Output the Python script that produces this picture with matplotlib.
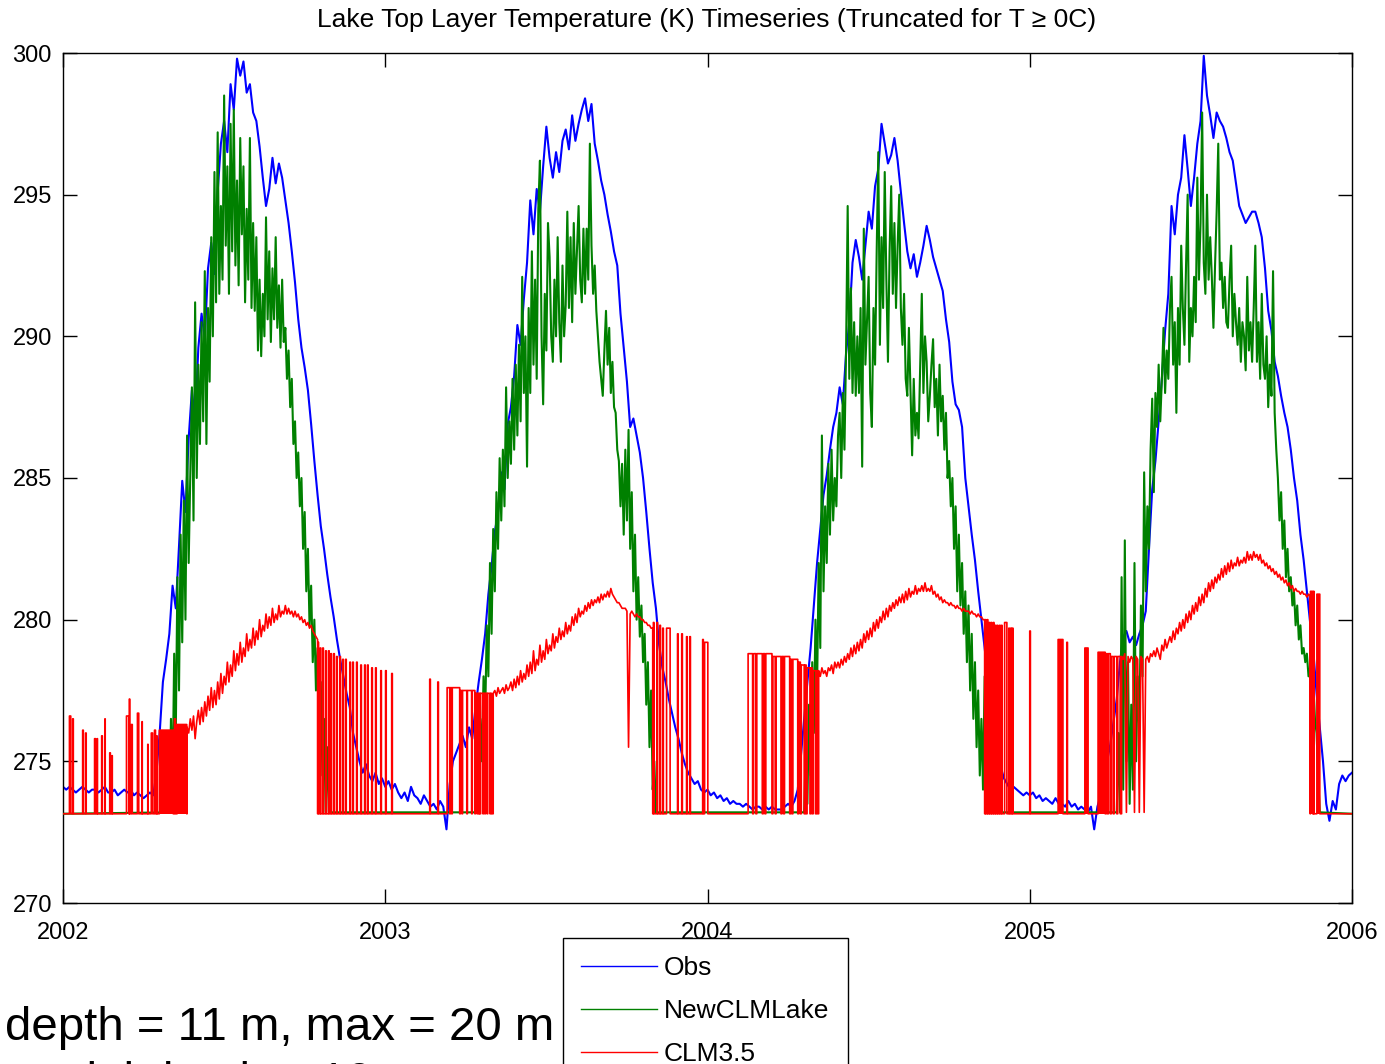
import numpy as np
import matplotlib
matplotlib.use('Agg')
import matplotlib.pyplot as plt

FLOOR = 273.15   # truncation level (0 C)

# ---- Obs: one value every 0.01 yr from 2002.00 to 2006.00
obs_t0 = 2002.0
obs_dt = 0.01
obs_T = [
    274.1, 274.0, 274.1, 274.0, 273.9, 274.0, 274.1, 274.0, 273.9, 274.0,
    274.0, 273.9, 274.0, 274.1, 273.9, 273.9, 274.0, 273.8, 273.9, 274.0,
    273.9, 274.0, 273.8, 273.9, 273.8, 273.7, 273.8, 273.9, 273.8, 274.6,
    276.0, 277.8, 278.6, 279.5, 281.2, 280.4, 282.6, 284.9, 283.8, 286.4,
    288.1, 287.0, 289.6, 290.8, 289.9, 292.4, 293.3, 292.2, 295.1, 296.8,
    297.6, 296.5, 298.9, 298.0, 299.8, 299.2, 299.7, 298.6, 298.9, 297.9,
    297.6, 296.7, 295.6, 294.6, 295.2, 296.3, 295.4, 296.1, 295.6, 294.8,
    294.0, 293.0, 291.9, 290.6, 289.6, 288.9, 288.1, 286.9, 285.6, 284.4,
    283.3, 282.5, 281.6, 280.8, 280.1, 279.3, 278.6, 278.0, 277.4, 276.9,
    276.0, 275.5, 275.0, 274.6, 274.9, 274.5, 274.3, 274.6, 274.2, 274.4,
    274.1, 274.3, 274.0, 274.2, 273.9, 273.7, 273.9, 273.6, 274.1, 273.8,
    273.7, 273.5, 273.8, 273.6, 273.4, 273.5, 273.3, 273.6, 273.4, 272.6,
    274.2, 275.0, 275.3, 275.6, 275.9, 275.5, 276.2, 275.8, 276.9, 277.8,
    278.6, 279.5, 280.9, 281.9, 283.1, 283.8, 285.2, 284.6, 286.9, 287.5,
    288.6, 290.4, 289.7, 291.3, 292.6, 294.8, 293.6, 295.2, 294.4, 296.0,
    297.4, 296.3, 295.6, 296.5, 295.8, 296.9, 297.3, 296.6, 297.8, 296.9,
    297.5, 298.0, 298.4, 297.6, 298.2, 296.8, 296.2, 295.5, 295.0, 294.3,
    293.7, 293.0, 292.5, 290.8, 289.6, 288.4, 286.8, 287.1, 286.5, 285.9,
    285.0, 283.8, 282.5, 281.3, 280.4, 279.1, 278.3, 277.8, 277.2, 276.7,
    276.2, 275.8, 275.3, 274.9, 274.6, 274.4, 274.2, 274.3, 274.0, 273.9,
    274.0, 273.8, 273.9, 273.7, 273.8, 273.6, 273.7, 273.5, 273.6, 273.5,
    273.5, 273.4, 273.5, 273.4, 273.3, 273.4, 273.4, 273.3, 273.4, 273.3,
    273.4, 273.3, 273.3, 273.3, 273.4, 273.5, 273.4, 273.6, 274.0, 275.2,
    276.5, 277.8, 279.0, 280.5, 282.0, 283.2, 284.4, 285.1, 286.0, 286.8,
    287.3, 288.2, 287.6, 289.4, 290.5, 292.6, 293.4, 292.8, 292.0, 293.2,
    294.4, 293.8, 295.3, 295.9, 297.5, 296.8, 296.1, 296.4, 297.0, 296.2,
    295.1, 294.0, 293.0, 292.4, 292.9, 292.1, 292.6, 293.2, 293.9, 293.4,
    292.8, 292.4, 292.0, 291.6, 290.6, 289.8, 288.4, 287.6, 287.4, 286.8,
    285.0, 284.0, 283.0, 282.1, 281.0, 280.0, 279.0, 278.0, 277.1, 276.0,
    275.3, 274.8, 274.4, 274.2, 274.0, 274.1, 274.0, 273.9, 273.8, 273.9,
    273.8, 273.9, 273.7, 273.8, 273.6, 273.7, 273.6, 273.5, 273.7, 273.5,
    273.5, 273.4, 273.6, 273.4, 273.5, 273.3, 273.4, 273.3, 273.2, 273.4,
    272.6, 273.4, 273.8, 274.1, 275.0, 275.6, 276.4, 277.2, 278.5, 279.4,
    279.6, 279.2, 279.4, 279.1, 279.5, 279.8, 280.3, 282.5, 284.6, 285.6,
    287.0, 288.5, 290.2, 291.5, 294.6, 293.6, 295.0, 295.6, 297.1, 295.9,
    294.6, 295.6, 296.8, 297.6, 299.9, 298.5, 297.8, 297.0, 297.9, 297.6,
    297.4, 297.0, 296.5, 296.2, 295.4, 294.6, 294.3, 294.0, 294.2, 294.4,
    294.4, 294.0, 293.5, 292.4, 290.9, 290.2, 289.1, 288.6, 287.9, 287.3,
    286.8, 286.0, 285.0, 284.2, 283.0, 282.1, 281.0, 279.9, 278.9, 277.4,
    276.2, 275.0, 273.5, 272.9, 273.6, 273.3, 274.2, 274.5, 274.3, 274.5,
    274.6,
]

# ---- NewCLMLake: open-water seasons, one value every 0.005 yr (floor otherwise)
new_dt = 0.005
new_start = [2002.330, 2003.280, 2004.300, 2005.270]
new_2002 = [
    273.2, 276.5, 274.0, 278.8, 276.0, 281.5, 277.5, 283.0, 279.2, 284.2,
    280.0, 286.5, 282.0, 285.0, 288.2, 283.5, 291.2, 285.0, 289.0, 286.2,
    290.5, 287.0, 292.3, 286.2, 291.0, 288.4, 293.5, 290.0, 295.8, 291.2,
    297.2, 291.5, 294.6, 292.0, 298.5, 293.2, 296.0, 291.5, 297.5, 293.0,
    298.0, 292.5, 295.5, 291.8, 297.0, 293.6, 296.0, 291.2, 294.5, 292.0,
    297.0, 291.0, 294.0, 290.9, 293.5, 289.5, 292.0, 289.3, 291.5, 290.0,
    294.2, 290.6, 293.0, 289.8, 292.4, 290.6, 293.5, 290.3, 291.8, 289.6,
    292.0, 289.8, 290.3, 288.5, 289.5, 287.5, 288.5, 286.2, 287.0, 285.0,
    285.9, 284.0, 285.0, 282.5, 283.8, 281.0, 282.5, 279.8, 281.2, 278.5,
    280.0, 277.5, 279.0, 276.0, 277.8, 274.5, 276.5, 273.2, 275.5, 273.2,
    273.2,
]
new_2003 = [
    273.2, 274.8, 273.6, 276.5, 275.0, 278.0, 276.5, 279.8, 278.0, 282.0,
    279.5, 283.2, 281.0, 284.5, 282.5, 285.7, 283.5, 286.0, 284.0, 288.2,
    285.0, 287.0, 285.5, 288.5, 286.0, 289.0, 286.5, 289.7, 287.0, 292.1,
    288.0, 290.0, 285.4, 291.0, 288.0, 293.0, 289.0, 292.0, 288.5, 294.5,
    296.2, 290.0, 287.6, 291.5, 289.5, 294.0, 292.8, 290.0, 289.1, 292.0,
    290.0, 293.5, 290.5, 289.1, 292.5, 290.0, 291.1, 294.4, 291.0, 293.5,
    290.5, 294.0, 291.5, 293.0, 294.6, 292.0, 291.2, 293.8, 291.5, 293.8,
    292.0, 296.8, 293.2, 291.5, 292.5, 290.9, 290.0, 289.1, 288.5, 287.9,
    289.5, 290.9, 289.0, 290.3, 288.0, 289.1, 287.5, 287.3, 286.0, 285.6,
    284.0, 285.5, 283.0, 286.0, 283.5, 286.7, 282.5, 284.5, 281.0, 283.0,
    280.0, 281.5, 279.4, 280.5, 278.5, 279.5, 277.0, 278.5, 275.5, 277.5,
    274.0, 275.0, 273.2,
]
new_2004 = [
    273.2, 275.5, 273.5, 277.0, 274.5, 278.5, 276.0, 280.0, 277.5, 282.0,
    279.0, 286.5, 281.0, 284.0, 282.0, 285.5, 283.0, 286.0, 283.5, 285.0,
    284.0, 286.5, 287.3, 285.0, 288.0, 286.0, 289.5, 294.6, 288.5, 291.7,
    288.0, 290.5, 287.9, 290.0, 288.0, 291.0, 285.4, 293.8, 289.0, 290.5,
    292.1, 288.0, 286.8, 291.0, 289.0, 293.0, 296.5, 289.7, 293.5, 291.0,
    295.8, 292.0, 289.1, 293.0, 295.3, 291.5, 294.0, 291.0, 293.2, 295.0,
    291.0, 289.7, 291.5, 288.5, 287.9, 290.3, 288.0, 285.8, 288.5, 286.5,
    287.3, 286.4, 289.0, 291.5, 288.0, 290.0, 289.1, 287.0, 287.9, 289.0,
    289.9, 287.5, 288.5, 286.5, 289.0, 287.0, 287.9, 286.0, 287.3, 285.0,
    285.6, 284.0, 285.0, 282.5, 284.0, 281.0, 283.0, 280.5, 282.0, 279.5,
    281.0, 278.5, 280.5, 277.5, 279.5, 276.5, 278.5, 275.5, 277.5, 274.5,
    276.5, 274.0, 278.0, 273.2, 275.5, 273.2, 273.2,
]
new_2005 = [
    273.2, 276.0, 273.2, 281.5, 274.0, 282.8, 275.0, 278.5, 273.5, 277.0,
    274.0, 282.0, 275.0, 278.0, 276.0, 280.5, 278.0, 285.2, 281.0, 284.0,
    282.5, 286.0, 287.8, 284.5, 288.0, 286.8, 289.0, 287.0, 288.5, 290.3,
    288.0, 289.5, 288.5, 291.0, 292.1, 289.0, 290.5, 287.3, 291.0, 289.0,
    293.2, 291.0, 289.7, 292.5, 295.0, 289.1, 291.0, 290.0, 292.1, 290.5,
    295.6, 292.0, 294.0, 297.9, 292.6, 291.5, 295.0, 292.0, 293.5, 292.1,
    290.3, 292.5, 294.4, 296.8, 292.0, 292.6, 291.0, 292.1, 290.5, 290.3,
    292.0, 293.2, 290.0, 291.5, 290.5, 289.7, 291.0, 289.1, 290.5, 290.0,
    288.8, 292.1, 289.5, 290.5, 289.1, 291.0, 293.2, 289.1, 290.5, 288.5,
    291.5, 289.0, 288.5, 290.0, 287.5, 289.0, 287.9, 292.3, 287.3, 286.0,
    285.0, 283.5, 284.5, 282.5, 283.5, 281.5, 282.5, 281.0, 281.5, 280.5,
    281.0, 279.8, 280.5, 279.3, 279.8, 278.8, 279.0, 278.5, 278.8, 278.0,
    278.3, 277.5, 277.8, 276.5, 276.0, 274.5, 273.2,
]

# ---- CLM3.5: ice-free curve, one value every 0.005 yr
clm_dt = 0.005
clm_start = [2002.385, 2003.335, 2004.345, 2005.285]
clm_2002 = [
    276.2, 276.0, 276.5, 276.1, 276.6, 275.8, 276.4, 276.8, 276.3, 276.9,
    276.4, 277.1, 276.6, 277.3, 276.8, 277.6, 276.9, 277.5, 277.0, 277.8,
    277.2, 278.1, 277.4, 278.0, 277.7, 278.5, 277.8, 278.4, 278.0, 278.9,
    278.2, 278.8, 278.4, 279.2, 278.5, 279.0, 278.7, 279.5, 278.9, 279.3,
    279.0, 279.7, 279.1, 279.6, 279.3, 280.0, 279.4, 279.8, 279.6, 280.2,
    279.7, 280.1, 279.8, 280.4, 279.9, 280.2, 280.0, 280.5, 280.1, 280.3,
    280.2, 280.5, 280.2, 280.4, 280.2, 280.3, 280.1, 280.3, 280.1, 280.2,
    280.0, 280.1, 279.9, 280.0, 279.8, 279.9, 279.7, 279.8, 279.6, 279.5,
    279.4, 279.3,
]
clm_2003 = [
    277.4, 277.5, 277.3, 277.6, 277.4, 277.5, 277.6, 277.4, 277.7, 277.5,
    277.6, 277.8, 277.5, 277.9, 277.6, 278.0, 277.7, 278.2, 277.8, 278.1,
    277.9, 278.4, 278.0, 278.5, 278.1, 278.9, 278.2, 278.6, 278.4, 279.1,
    278.5, 278.9, 278.6, 279.3, 278.8, 279.1, 278.9, 279.5, 279.0, 279.4,
    279.2, 279.7, 279.3, 279.6, 279.4, 279.9, 279.5, 279.8, 279.6, 280.1,
    279.8, 280.2, 279.9, 280.4, 280.1, 280.3, 280.2, 280.5, 280.3, 280.6,
    280.4, 280.7, 280.5, 280.7, 280.6, 280.8, 280.6, 280.9, 280.7, 280.9,
    280.8, 281.0, 280.8, 281.1, 280.9, 280.8, 280.7, 280.6, 280.6, 280.5,
    280.4, 280.4, 280.4, 280.3, 275.5, 280.2, 280.3, 280.2, 280.1, 280.2,
    280.1, 280.1, 280.0, 280.0, 279.9, 279.9, 279.8, 279.8, 279.7, 279.7,
]
clm_2004 = [
    278.2, 278.0, 278.3, 278.1, 278.2, 278.0, 278.3, 278.2, 278.4, 278.1,
    278.5, 278.3, 278.5, 278.3, 278.6, 278.4, 278.7, 278.5, 278.8, 278.6,
    279.0, 278.7, 279.1, 278.8, 279.2, 278.9, 279.3, 279.0, 279.5, 279.2,
    279.6, 279.3, 279.7, 279.4, 279.9, 279.6, 280.0, 279.7, 280.1, 279.9,
    280.3, 280.0, 280.4, 280.1, 280.5, 280.3, 280.6, 280.4, 280.7, 280.5,
    280.8, 280.6, 280.9, 280.6, 281.0, 280.7, 281.1, 280.8, 281.0, 280.9,
    281.2, 280.9, 281.1, 281.0, 281.2, 281.0, 281.3, 281.0, 281.1, 281.0,
    281.2, 280.9, 281.0, 280.8, 280.9, 280.7, 280.8, 280.6, 280.7, 280.6,
    280.6, 280.5, 280.6, 280.5, 280.5, 280.4, 280.5, 280.4, 280.4, 280.3,
    280.4, 280.3, 280.3, 280.3, 280.2, 280.3, 280.2, 280.2, 280.1, 280.2,
    280.1, 280.1, 280.0, 280.0,
]
clm_2005 = [
    278.7, 278.6, 278.8, 273.2, 278.7, 278.5, 278.7, 278.6, 273.2, 278.7,
    278.6, 273.2, 278.7, 278.6, 273.2, 278.6, 278.7, 278.5, 278.8, 278.7,
    278.9, 278.7, 279.0, 278.8, 278.6, 279.1, 278.9, 279.3, 279.0, 279.2,
    279.4, 279.2, 279.6, 279.3, 279.7, 279.5, 279.9, 279.6, 280.0, 279.7,
    280.2, 279.9, 280.3, 280.0, 280.5, 280.2, 280.6, 280.3, 280.8, 280.5,
    280.9, 280.6, 281.1, 280.8, 281.3, 281.0, 281.4, 281.1, 281.5, 281.3,
    281.6, 281.4, 281.8, 281.5, 281.9, 281.6, 282.0, 281.7, 282.1, 281.8,
    282.0, 281.9, 282.2, 281.9, 282.1, 282.0, 282.2, 282.0, 282.4, 282.1,
    282.3, 282.1, 282.4, 282.2, 282.3, 282.1, 282.3, 282.0, 282.1, 281.9,
    282.0, 281.8, 281.9, 281.7, 281.8, 281.6, 281.7, 281.5, 281.6, 281.4,
    281.5, 281.3, 281.4, 281.2, 281.3, 281.1, 281.2, 281.0, 281.1, 281.0,
    281.0, 280.9, 281.0, 280.9, 280.9, 280.8, 280.9, 280.8,
]

# CLM3.5 under ice: short episodes where it jumps up off the floor (start, end, level)
clm_up_start = [
    2002.020, 2002.030, 2002.061, 2002.070, 2002.098, 2002.106, 2002.120, 2002.130,
    2002.145, 2002.152, 2002.197, 2002.206, 2002.212, 2002.231, 2002.245, 2002.263,
    2002.274, 2002.284, 2002.291, 2002.299, 2002.346, 2002.354,
    2002.791, 2002.798, 2002.806, 2002.815, 2002.824, 2002.831, 2002.840, 2002.849,
    2002.859, 2002.868, 2002.877, 2002.890, 2002.899, 2002.911, 2002.924, 2002.936,
    2002.945, 2002.958, 2002.970, 2002.986, 2003.001, 2003.020, 2003.138, 2003.163,
    2003.192, 2003.202, 2003.208, 2003.233, 2003.240, 2003.255, 2003.270, 2003.280,
    2003.287, 2003.292, 2003.296, 2003.305, 2003.311, 2003.318, 2003.327,
    2003.832, 2003.843, 2003.852, 2003.861, 2003.873, 2003.907, 2003.920, 2003.935,
    2003.945, 2003.985, 2003.991,
    2004.126, 2004.143, 2004.153, 2004.173, 2004.181, 2004.203, 2004.213, 2004.231,
    2004.239, 2004.258, 2004.265, 2004.283, 2004.291, 2004.303, 2004.309, 2004.321,
    2004.328, 2004.338,
    2004.862, 2004.868, 2004.874, 2004.880, 2004.887, 2004.893, 2004.899, 2004.906,
    2004.912, 2004.922, 2004.935, 2004.941, 2004.946, 2005.000, 2005.088, 2005.115,
    2005.171, 2005.212, 2005.237, 2005.244, 2005.253, 2005.262, 2005.273,
    2005.871, 2005.881, 2005.891,
]
clm_up_end = [
    2002.024, 2002.032, 2002.063, 2002.072, 2002.101, 2002.107, 2002.122, 2002.131,
    2002.147, 2002.153, 2002.204, 2002.207, 2002.215, 2002.235, 2002.246, 2002.264,
    2002.278, 2002.287, 2002.292, 2002.342, 2002.349, 2002.384,
    2002.793, 2002.800, 2002.808, 2002.817, 2002.826, 2002.833, 2002.842, 2002.851,
    2002.861, 2002.870, 2002.879, 2002.892, 2002.901, 2002.913, 2002.926, 2002.938,
    2002.947, 2002.960, 2002.972, 2002.988, 2003.003, 2003.022, 2003.140, 2003.165,
    2003.200, 2003.206, 2003.231, 2003.238, 2003.253, 2003.268, 2003.278, 2003.285,
    2003.290, 2003.294, 2003.303, 2003.309, 2003.316, 2003.325, 2003.330,
    2003.834, 2003.845, 2003.854, 2003.863, 2003.884, 2003.909, 2003.922, 2003.937,
    2003.947, 2003.987, 2004.001,
    2004.140, 2004.150, 2004.170, 2004.178, 2004.200, 2004.210, 2004.228, 2004.236,
    2004.255, 2004.262, 2004.280, 2004.288, 2004.300, 2004.306, 2004.318, 2004.325,
    2004.335, 2004.341,
    2004.864, 2004.870, 2004.876, 2004.882, 2004.889, 2004.895, 2004.901, 2004.908,
    2004.914, 2004.929, 2004.937, 2004.943, 2004.948, 2005.002, 2005.103, 2005.117,
    2005.181, 2005.234, 2005.241, 2005.250, 2005.259, 2005.270, 2005.281,
    2005.878, 2005.882, 2005.900,
]
clm_up_top = [
    276.6, 276.5, 276.1, 276.0, 275.8, 275.8, 275.9, 276.5,
    275.3, 275.2, 276.6, 277.2, 276.3, 276.7, 276.4, 275.6,
    276.0, 276.1, 275.9, 276.1, 276.5, 276.3,
    279.2, 279.0, 279.0, 278.9, 278.9, 278.8, 278.8, 278.7,
    278.7, 278.6, 278.6, 278.5, 278.5, 278.5, 278.4, 278.4,
    278.4, 278.3, 278.3, 278.2, 278.2, 278.1, 277.9, 277.8,
    277.6, 277.6, 277.6, 277.5, 277.5, 277.5, 277.5, 277.4,
    277.4, 277.4, 277.4, 277.4, 277.4, 277.4, 277.4,
    279.9, 279.9, 279.8, 279.7, 279.7, 279.5, 279.5, 279.4,
    279.4, 279.3, 279.2,
    278.8, 278.8, 278.8, 278.8, 278.8, 278.7, 278.7, 278.7,
    278.7, 278.6, 278.6, 278.5, 278.4, 278.4, 278.3, 278.3,
    278.2, 278.2,
    280.0, 280.0, 279.9, 279.9, 279.9, 279.8, 279.8, 279.8,
    279.8, 279.9, 279.7, 279.7, 279.7, 279.6, 279.3, 279.2,
    279.0, 278.85, 278.8, 278.8, 278.7, 278.7, 278.7,
    281.0, 281.0, 280.9,
]
# episodes so densely toggling that they render as solid red
clm_solid_start = [2002.299, 2002.354, 2005.088, 2005.171, 2005.212, 2005.871, 2005.891]
clm_solid_end = [2002.342, 2002.384, 2005.103, 2005.181, 2005.234, 2005.878, 2005.900]
clm_solid_top = [276.1, 276.3, 279.3, 279.0, 278.85, 281.0, 280.9]

# ---------------------------------------------------------------- assemble
obs_t = obs_t0 + obs_dt * np.arange(len(obs_T))

new_t, new_T = [2002.0], [FLOOR]
for s0, vals in zip(new_start, [new_2002, new_2003, new_2004, new_2005]):
    new_t += list(s0 + new_dt * np.arange(len(vals)))
    new_T += list(vals)
new_t.append(2006.0)
new_T.append(FLOOR)

events = []
for s, e, top in zip(clm_up_start, clm_up_end, clm_up_top):
    events.append((s, [s, s, e, e], [FLOOR, top, top, FLOOR]))
for s0, vals in zip(clm_start, [clm_2002, clm_2003, clm_2004, clm_2005]):
    tt = list(s0 + clm_dt * np.arange(len(vals)))
    events.append((s0, [s0] + tt + [tt[-1]], [FLOOR] + list(vals) + [FLOOR]))
events.sort(key=lambda ev: ev[0])
clm_t, clm_T = [2002.0], [FLOOR]
for _, tt, vv in events:
    clm_t += tt
    clm_T += vv
clm_t.append(2006.0)
clm_T.append(FLOOR)

# ---------------------------------------------------------------- plot
plt.rcParams['font.family'] = ['Liberation Sans', 'DejaVu Sans']
W, H = 1385, 1064
fig = plt.figure(figsize=(W / 100, H / 100), dpi=100)
ax = fig.add_axes([63 / W, 1 - 903 / H, (1352 - 63) / W, (903 - 53) / H])

l_obs, = ax.plot(obs_t, obs_T, color=(0, 0, 1), lw=1.5, zorder=2)
l_new, = ax.plot(new_t, new_T, color=(0, 0.5, 0), lw=1.5, zorder=3)
l_clm, = ax.plot(clm_t, clm_T, color=(1, 0, 0), lw=1.2, zorder=4)
for s, e, top in zip(clm_solid_start, clm_solid_end, clm_solid_top):
    ax.fill_between([s, e], FLOOR, top, color=(1, 0, 0), lw=0, zorder=4)

ax.set_xlim(2002, 2006)
ax.set_ylim(270, 300)
ax.set_xticks([2002, 2003, 2004, 2005, 2006])
ax.set_xticklabels(['2002', '2003', '2004', '2005', '2006'])
ax.set_yticks([270, 275, 280, 285, 290, 295, 300])
ax.tick_params(direction='in', length=10, width=1, top=True, right=True,
               labelsize=17, color='black')
ax.tick_params(axis='x', pad=14)
ax.tick_params(axis='y', pad=8)
for sp in ax.spines.values():
    sp.set_linewidth(1.0)

title = fig.text(707 / W, 1 - 20 / H,
                 'Lake Top Layer Temperature (K) Timeseries (Truncated for T \u2265 0C)',
                 ha='center', va='center', fontsize=17)
note1 = fig.text(5 / W, 1 - 1040 / H, 'depth = 11 m, max = 20 m',
                 ha='left', va='baseline', fontsize=34)
note2 = fig.text(5 / W, 1 - 1095 / H, 'model depth = 10 m',
                 ha='left', va='baseline', fontsize=34)

fig.canvas.draw()
r = fig.canvas.get_renderer()
for txt, target in [(title, 779), (note1, 550)]:
    w = txt.get_window_extent(r).width
    txt.set_fontsize(txt.get_fontsize() * target / w)
note2.set_fontsize(note1.get_fontsize())

leg = fig.legend([l_obs, l_new, l_clm], ['Obs', 'NewCLMLake', 'CLM3.5'],
                 loc='upper left', bbox_to_anchor=(563 / W, 1 - 938 / H),
                 borderaxespad=0, fontsize=19, frameon=True, fancybox=False,
                 edgecolor='black', framealpha=1, handlelength=2.85,
                 handletextpad=0.27, labelspacing=0.72, borderpad=0.7)
leg.get_frame().set_linewidth(1.0)
for ln in leg.get_lines():
    ln.set_linewidth(1.0)

fig.savefig('out.png', dpi=100)
